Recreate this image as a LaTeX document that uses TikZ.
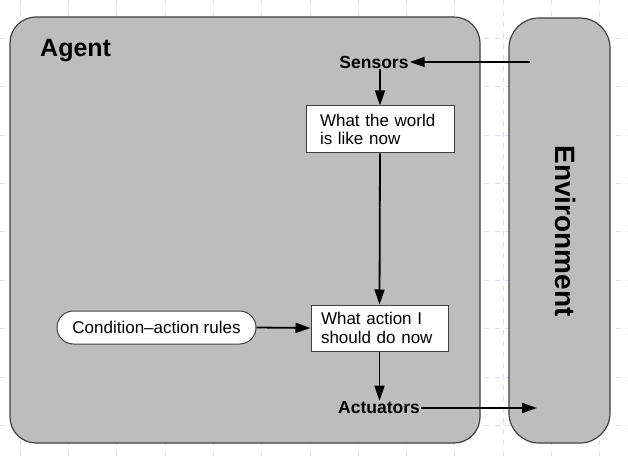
\documentclass[tikz,border=0pt]{standalone}
\usepackage{fontspec}
\setmainfont{Liberation Sans}
\usetikzlibrary{arrows.meta,shapes.misc}
\definecolor{boxgray}{HTML}{BDBDBD}
\definecolor{edgegray}{HTML}{404040}
\definecolor{gridblue}{HTML}{D4DDF4}
\begin{document}
\begin{tikzpicture}[x=1pt,y=-1pt,
  panel/.style={fill=boxgray,draw=edgegray,line width=1.2pt},
  statebox/.style={draw=edgegray,fill=white,line width=1pt,inner xsep=0pt,inner ysep=0pt,align=left,font=\fontsize{17}{18.5}\selectfont},
  lbl/.style={font=\bfseries\fontsize{17.5}{19}\selectfont,inner sep=1pt},
  arr/.style={line width=1.8pt,-{Triangle[length=15pt,width=10pt]}},
  gridline/.style={gridblue,dash pattern=on 5pt off 6pt,line width=0.5pt},
]
\useasboundingbox (0,0) rectangle (628,462);
\fill[white] (0,0) rectangle (628,462);
% faint grid
\foreach \gx in {20,68.3,116.6,164.9,213.2,261.5,309.8,358.1,406.4,454.7,503,551.3,599.6}
  \draw[gridline] (\gx,0) -- (\gx,462);
\foreach \gy in {38,86.4,134.8,183.2,231.6,280,328.4,376.8,425.2}
  \draw[gridline] (0,\gy) -- (628,\gy);
% panels
\draw[panel,rounded corners=26pt] (10,17) rectangle (480,443);
\draw[panel,rounded corners=30pt] (509,18) rectangle (610,443);
\node[anchor=base west,font=\bfseries\fontsize{25}{27}\selectfont,inner sep=0pt] (agent) at (40,57) {Agent};
\node[rotate=-90,font=\bfseries\fontsize{28}{30}\selectfont,inner sep=0pt] (env) at (565,231) {Environment};
% nodes
\node[lbl] (sensors) at (374,62) {Sensors};
\node[statebox,minimum width=148pt,minimum height=47pt,text width=120pt] (world) at (380,129.5) {What the world\\is like now};
\node[statebox,minimum width=137pt,minimum height=46pt,text width=117pt] (action) at (379.5,328) {What action I\\should do now};
\node[draw=edgegray,fill=white,line width=1pt,rounded rectangle,minimum width=199pt,minimum height=33pt,inner sep=0pt,font=\fontsize{17}{18.5}\selectfont] (cond) at (156.5,327.5) {Condition--action rules};
\node[lbl] (actuators) at (379,408) {Actuators};
\coordinate (envin) at (530,62);
\coordinate (envout) at (537,408);
% connectors
\draw[arr] (envin) -- (sensors.east);
\draw[arr] (sensors.south -| world.north) -- (world.north);
\draw[arr] (world.south) -- (action.north);
\draw[arr] (cond.east) -- (action.west);
\draw[arr] (action.south) -- (action.south |- actuators.north);
\draw[arr] (actuators.east) -- (envout);
\end{tikzpicture}
\end{document}
